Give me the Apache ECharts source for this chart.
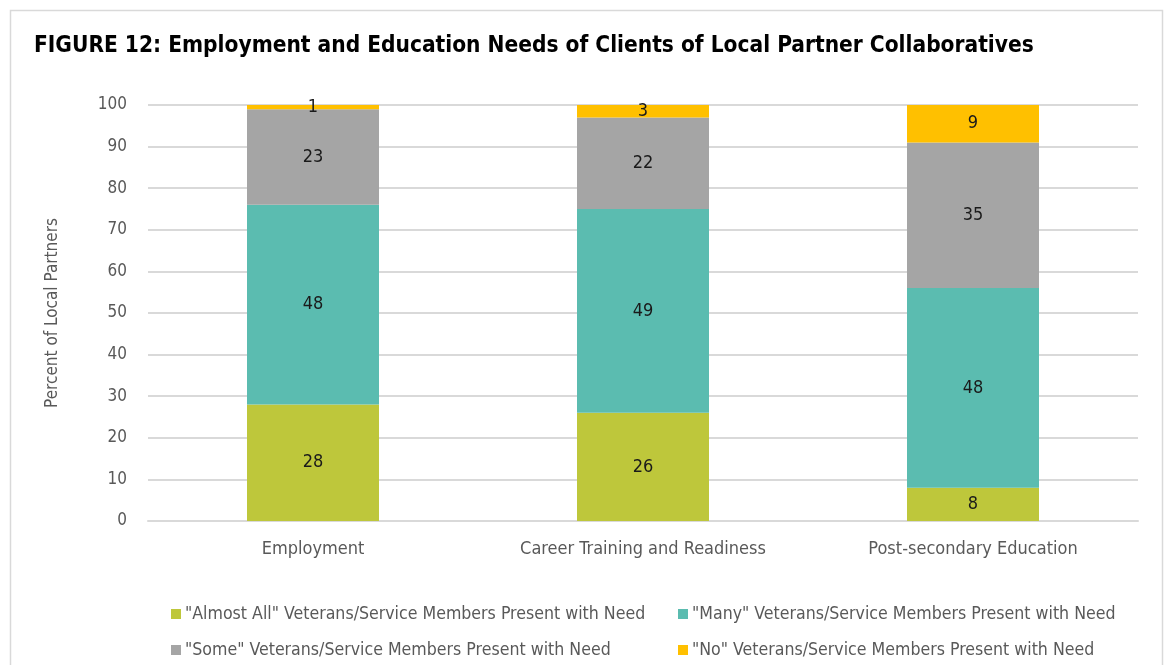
<!DOCTYPE html>
<html>
<head>
<meta charset="utf-8">
<script src="https://cdn.jsdelivr.net/npm/echarts@6/dist/echarts.min.js"></script>
<style>
  html, body { margin: 0; padding: 0; background: #ffffff; }
  #chart { width: 1168px; height: 665px; }
</style>
</head>
<body>
<div id="chart"></div>
<script>
// Needs categories
const categories = ['Employment', 'Career Training and Readiness', 'Post-secondary Education'];

// Share of local partners (%) reporting each level of need
const almostAll = [28, 26, 8];
const many = [48, 49, 48];
const some = [23, 22, 35];
const none = [1, 3, 9];

const seriesNames = [
  '"Almost All" Veterans/Service Members Present with Need',
  '"Many" Veterans/Service Members Present with Need',
  '"Some" Veterans/Service Members Present with Need',
  '"No" Veterans/Service Members Present with Need'
];

const colors = ['#bec73b', '#5bbcb0', '#a5a5a5', '#ffc000'];
const FONT = '"Liberation Sans Narrow", "DejaVu Sans Condensed", "Roboto Condensed", sans-serif';

const chart = echarts.init(document.getElementById('chart'));

function barSeries(name, values, color) {
  return {
    name: name,
    type: 'bar',
    stack: 'total',
    barWidth: '40%',
    data: values,
    itemStyle: { color: color },
    label: {
      show: true,
      position: 'inside',
      color: '#1a1a1a',
      fontFamily: FONT,
      fontSize: 18
    },
    emphasis: { disabled: true }
  };
}

const legendPos = [
  { left: 166, top: 600 },
  { left: 673, top: 600 },
  { left: 166, top: 636 },
  { left: 673, top: 636 }
];

chart.setOption({
  animation: false,
  backgroundColor: '#ffffff',
  color: colors,
  graphic: [{
    type: 'rect',
    shape: { x: 10.5, y: 10.5, width: 1152, height: 680 },
    style: { fill: 'none', stroke: '#d9d9d9', lineWidth: 1.5 },
    silent: true
  }],
  title: {
    text: 'FIGURE 12: Employment and Education Needs of Clients of Local Partner Collaboratives',
    left: 29,
    top: 30,
    textStyle: {
      fontFamily: FONT,
      fontWeight: 'bold',
      fontSize: 22.5,
      color: '#000000'
    }
  },
  legend: seriesNames.map((n, i) => ({
    data: [n],
    left: legendPos[i].left,
    top: legendPos[i].top,
    itemWidth: 10,
    itemHeight: 10,
    itemGap: 4,
    icon: 'rect',
    selectedMode: false,
    textStyle: { fontFamily: FONT, fontSize: 17.6, color: '#595959', padding: [0, 0, 0, -1] }
  })),
  grid: {
    left: 148,
    right: 30,
    top: 105,
    bottom: 144,
    containLabel: false
  },
  xAxis: {
    type: 'category',
    data: categories,
    axisLine: { show: true, lineStyle: { color: '#d9d9d9', width: 2 } },
    axisTick: { show: false },
    axisLabel: {
      fontFamily: FONT,
      fontSize: 18,
      color: '#595959',
      margin: 19
    }
  },
  yAxis: {
    type: 'value',
    min: 0,
    max: 100,
    interval: 10,
    name: 'Percent of Local Partners',
    nameLocation: 'middle',
    nameGap: 87,
    nameRotate: 90,
    nameTextStyle: { fontFamily: FONT, fontSize: 17, color: '#595959' },
    axisLine: { show: false },
    axisTick: { show: false },
    splitLine: { lineStyle: { color: '#d9d9d9', width: 2 } },
    axisLabel: {
      fontFamily: FONT,
      fontSize: 17,
      color: '#595959',
      margin: 21
    }
  },
  series: [
    barSeries(seriesNames[0], almostAll, colors[0]),
    barSeries(seriesNames[1], many, colors[1]),
    barSeries(seriesNames[2], some, colors[2]),
    barSeries(seriesNames[3], none, colors[3])
  ]
});
</script>
</body>
</html>
